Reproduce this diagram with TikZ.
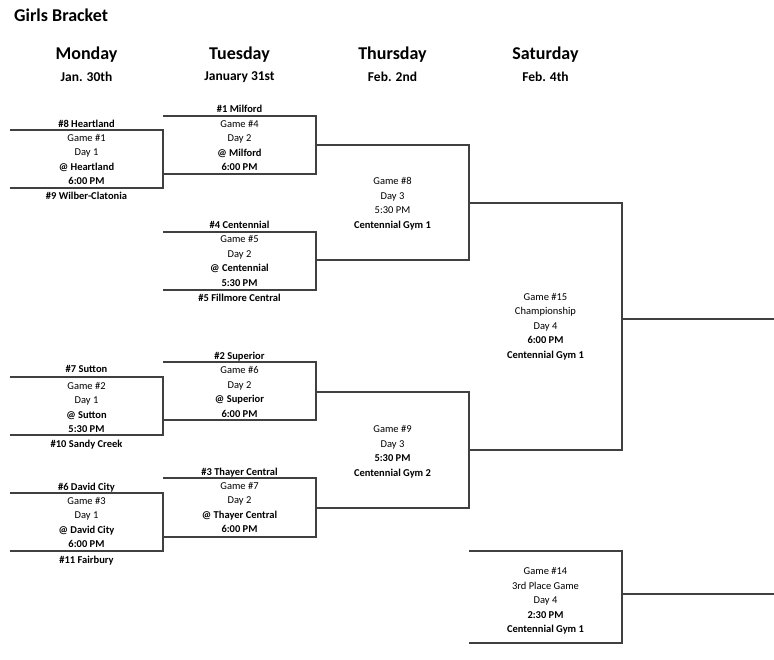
\documentclass[tikz,border=0pt]{standalone}
\usepackage{fontspec}
\setmainfont{Carlito}
\begin{document}
\begin{tikzpicture}[x=1pt,y=-1pt,
    bline/.style={line width=1.3pt,black!75},
    team/.style={anchor=base,inner sep=0pt,font=\fontsize{10.5}{12}\selectfont\bfseries},
    game/.style={align=center,inner sep=0pt,font=\fontsize{10.5}{14.5}\selectfont},
    dayname/.style={font=\fontsize{18}{20}\selectfont\bfseries},
    daydate/.style={font=\fontsize{13.5}{15}\selectfont\bfseries}]
\useasboundingbox (0,0) rectangle (774,659);
\node[anchor=west,inner sep=0pt,font=\fontsize{18}{20}\selectfont\bfseries] (title) at (14,15) {Girls Bracket};
\node[dayname] (mon) at (86.5,55) {Monday};
\node[daydate] (mondate) at (86.5,77) {Jan. 30th};
\node[dayname] (tue) at (239.5,55) {Tuesday};
\node[daydate] (tuedate) at (239.5,77) {January 31st};
\node[dayname] (thu) at (392.5,55) {Thursday};
\node[daydate] (thudate) at (392.5,77) {Feb. 2nd};
\node[dayname] (sat) at (545.5,55) {Saturday};
\node[daydate] (satdate) at (545.5,77) {Feb. 4th};
% bracket lines
\foreach \xa/\ya/\yb in {10/130/188,10/377/435,10/493/551,
    163/116/174,163/232/290,163/362/420,163/478/537,
    316/145/260,316/392/508,469/203/450,469/551/643}
  \draw[bline] (\xa,\ya) -- ++(153,0) -- (\xa+153,\yb) -- (\xa,\yb);
\draw[bline] (622,319) -- (774,319);
\draw[bline] (622,594) -- (774,594);
% Monday
\node[team] (t8) at (86.5,127.5) {\#8 Heartland};
\node[game] (g1) at (86.5,159.5) {Game \#1\\Day 1\\\textbf{@ Heartland}\\\textbf{6:00 PM}};
\node[team] (t9) at (86.5,199.5) {\#9 Wilber-Clatonia};
\node[team] (t7) at (86.5,372) {\#7 Sutton};
\node[game] (g2) at (86.5,407.5) {Game \#2\\Day 1\\\textbf{@ Sutton}\\\textbf{5:30 PM}};
\node[team] (t10) at (86.5,447.5) {\#10 Sandy Creek};
\node[team] (t6) at (86.5,490.5) {\#6 David City};
\node[game] (g3) at (86.5,522.5) {Game \#3\\Day 1\\\textbf{@ David City}\\\textbf{6:00 PM}};
\node[team] (t11) at (86.5,563.5) {\#11 Fairbury};
% Tuesday
\node[team] (t1) at (239.5,112.5) {\#1 Milford};
\node[game] (g4) at (239.5,145.5) {Game \#4\\Day 2\\\textbf{@ Milford}\\\textbf{6:00 PM}};
\node[team] (t4) at (239.5,228.5) {\#4 Centennial};
\node[game] (g5) at (239.5,261) {Game \#5\\Day 2\\\textbf{@ Centennial}\\\textbf{5:30 PM}};
\node[team] (t5) at (239.5,301.5) {\#5 Fillmore Central};
\node[team] (t2) at (239.5,359.5) {\#2 Superior};
\node[game] (g6) at (239.5,392) {Game \#6\\Day 2\\\textbf{@ Superior}\\\textbf{6:00 PM}};
\node[team] (t3) at (239.5,475.5) {\#3 Thayer Central};
\node[game] (g7) at (239.5,507.5) {Game \#7\\Day 2\\\textbf{@ Thayer Central}\\\textbf{6:00 PM}};
% Thursday and Saturday
\node[game] (g8) at (392.5,203.5) {Game \#8\\Day 3\\5:30 PM\\\textbf{Centennial Gym 1}};
\node[game] (g9) at (392.5,452) {Game \#9\\Day 3\\\textbf{5:30 PM}\\\textbf{Centennial Gym 2}};
\node[game] (g15) at (545.5,326.5) {Game \#15\\Championship\\Day 4\\\textbf{6:00 PM}\\\textbf{Centennial Gym 1}};
\node[game] (g14) at (545.5,601) {Game \#14\\3rd Place Game\\Day 4\\\textbf{2:30 PM}\\\textbf{Centennial Gym 1}};
\end{tikzpicture}
\end{document}
